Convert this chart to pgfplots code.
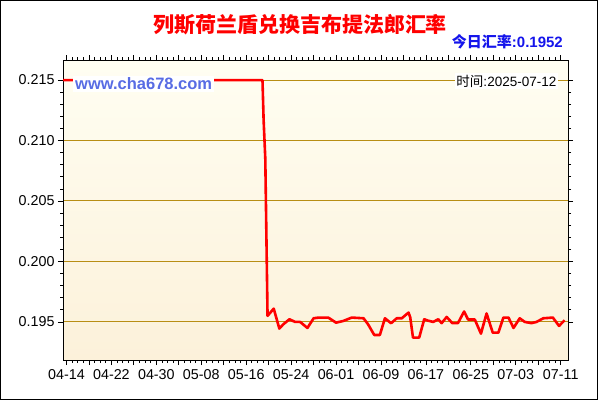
\documentclass[border=0pt]{standalone}
\usepackage{pgfplots}
\pgfplotsset{compat=1.18}
\usepackage{fontspec}
\setmainfont{Liberation Sans}
\newfontfamily\cjk{Noto Sans CJK SC}
\definecolor{gridgold}{RGB}{184,142,20}
\definecolor{bgtop}{RGB}{255,254,242}
\definecolor{bgbot}{RGB}{252,241,218}
\definecolor{wmblue}{RGB}{88,108,228}
\definecolor{rateblue}{RGB}{20,20,235}

\begin{document}
\begin{tikzpicture}[x=1pt,y=1pt]
\path (0,0) rectangle (600,400);
\draw[line width=1.2pt] (0.6,0.6) rectangle (597.6,399.4);

\begin{axis}[
    at={(63pt,40pt)}, anchor=south west,
    scale only axis, width=505pt, height=300pt,
    xmin=-0.62, xmax=89.3,
    ymin=0.19185, ymax=0.21666,
    axis background/.style={top color=bgtop, bottom color=bgbot},
    axis line style={line width=1pt},
    tick align=outside,
    major tick length=5pt, minor tick length=3pt,
    every tick/.style={black, line width=0.8pt},
    xtick={0,4,...,88},
    xticklabels={04-14,,04-22,,04-30,,05-08,,05-16,,05-24,,06-01,,06-09,,06-17,,06-25,,07-03,,07-11},
    minor x tick num=3,
    ytick={0.195,0.2,0.205,0.21,0.215},
    minor y tick num=4,
    yticklabel style={/pgf/number format/.cd, fixed, precision=3, zerofill},
    /pgf/number format/assume math mode=true,
    ticklabel style={font=\fontsize{14.3}{16}\selectfont},
    xticklabel style={yshift=-1pt},
    ymajorgrids=true,
    major grid style={gridgold, line width=1pt},
    clip=true,
]
\addplot[red, line width=2.6pt, line join=round] coordinates {
(-0.6,0.215)(8,0.215)(16,0.215)(24,0.215)(32,0.215)(34.9,0.215)
(35.1,0.2117)(35.4,0.2085)(35.8,0.1955)
(36.3,0.19577)(36.9,0.1961)(37.9,0.19445)(38.6,0.1948)(39.7,0.19522)
(40.7,0.1950)(41.6,0.1950)(42.9,0.1945)(44.0,0.1953)(44.9,0.19536)
(46.6,0.19536)(48.0,0.19494)(49.3,0.19508)(50.8,0.19536)(52.9,0.1953)
(53.7,0.1948)(54.8,0.19392)(55.8,0.19392)(56.7,0.1953)(57.8,0.19489)
(58.8,0.1953)(59.7,0.1953)(60.9,0.19577)(61.2,0.1954)(61.7,0.1937)
(62.8,0.1937)(63.7,0.19522)(64.4,0.1951)(65.3,0.1950)(66.2,0.19522)
(66.8,0.1949)(67.7,0.19541)(68.7,0.1949)(69.7,0.1949)(70.8,0.19586)
(71.5,0.1952)(72.7,0.1952)(73.8,0.19403)(74.8,0.1957)(75.9,0.19411)
(76.9,0.19411)(77.8,0.19536)(78.7,0.19536)(79.6,0.1945)(80.7,0.1953)
(81.6,0.1950)(82.8,0.1949)(83.7,0.1950)(84.9,0.1953)(86.6,0.19536)
(87.7,0.19467)(88.7,0.19514)
};
\end{axis}

\node[text=red, font=\cjk\bfseries\fontsize{21}{24}\selectfont] at (300,375) {列斯荷兰盾兑换吉布提法郎汇率};
\node[anchor=east, inner sep=0pt, text=rateblue, font=\bfseries\fontsize{15}{17}\selectfont] at (563,358) {{\cjk 今日汇率}:0.1952};
\node[anchor=west, fill=white, inner sep=2pt, text=wmblue, font=\bfseries\fontsize{16.5}{18}\selectfont] at (73,316) {www.cha678.com};
\node[anchor=east, fill=white, inner sep=1.5pt, font=\fontsize{13.5}{15}\selectfont] at (558,319) {{\cjk 时间}:2025-07-12};
\end{tikzpicture}
\end{document}
